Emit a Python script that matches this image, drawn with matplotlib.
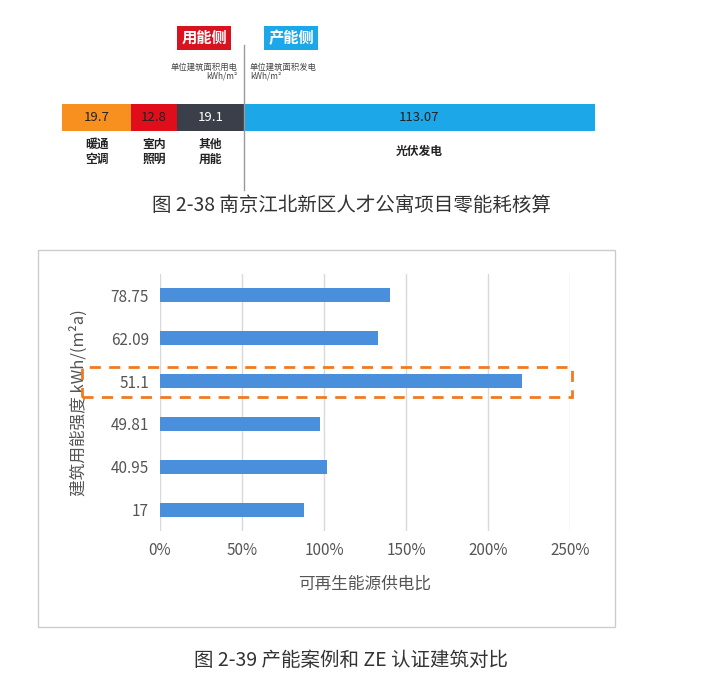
import matplotlib.pyplot as plt
import matplotlib.patches as patches

plt.rcParams['font.family'] = ['Noto Sans CJK SC', 'DejaVu Sans']

# top chart data: use side and production side
use_values = [19.7, 12.8, 19.1]
use_labels = ['19.7', '12.8', '19.1']
use_names = ['暖通\n空调', '室内\n照明', '其他\n用能']
use_colors = ['#f7901e', '#e00d1b', '#3a3f4a']
use_text = ['#222222', '#222222', 'white']
pv_value = 113.07
pv_label = '113.07'
pv_name = '光伏发电'

# bottom chart data
intensity = ['17', '40.95', '49.81', '51.1', '62.09', '78.75']
ratio = [88, 102, 97.5, 221, 133, 140]

W, H = 702, 698
fig = plt.figure(figsize=(7.02, 6.98), dpi=100)

def fx(x): return x / W
def fy(y): return 1 - y / H

# ---- top bar, use side
axu = fig.add_axes([fx(62), fy(131), fx(244) - fx(62), fy(104) - fy(131)])
left = 0
for v, lab, name, c, tc in zip(use_values, use_labels, use_names, use_colors, use_text):
    axu.barh(0, v, left=left, height=1, color=c)
    axu.text(left + v / 2, 0, lab, ha='center', va='center', fontsize=9.5, color=tc)
    axu.text(left + v / 2, -0.75, name, ha='center', va='top', fontsize=8.5,
             fontweight='bold', color='#222222')
    left += v
axu.set_xlim(0, sum(use_values))
axu.set_ylim(-0.5, 0.5)
axu.axis('off')

# ---- top bar, production side
axp = fig.add_axes([fx(244), fy(131), fx(595) - fx(244), fy(104) - fy(131)])
axp.barh(0, pv_value, height=1, color='#1ca7e8')
axp.text(pv_value / 2, 0, pv_label, ha='center', va='center', fontsize=9.5, color='#222222')
axp.text(pv_value / 2, -1.0, pv_name, ha='center', va='top', fontsize=8.5,
         fontweight='bold', color='#222222')
axp.set_xlim(0, pv_value)
axp.set_ylim(-0.5, 0.5)
axp.axis('off')

fig.add_artist(plt.Line2D([fx(244), fx(244)], [fy(45), fy(190)], color='#999999', lw=1))
fig.text(fx(204), fy(38), '用能侧', ha='center', va='center', fontsize=11, color='white',
         fontweight='bold', bbox=dict(boxstyle='square,pad=0.25', fc='#d9121f', ec='none'))
fig.text(fx(291), fy(38), '产能侧', ha='center', va='center', fontsize=11, color='white',
         fontweight='bold', bbox=dict(boxstyle='square,pad=0.25', fc='#1ca7e8', ec='none'))
fig.text(fx(238), fy(72), '单位建筑面积用电\nkWh/m²', ha='right', va='center', fontsize=6,
         color='#444444', linespacing=1.0)
fig.text(fx(250), fy(72), '单位建筑面积发电\nkWh/m²', ha='left', va='center', fontsize=6,
         color='#444444', linespacing=1.0)
fig.text(0.5, fy(205), '图 2-38 南京江北新区人才公寓项目零能耗核算', ha='center', va='center',
         fontsize=14, color='#333333')

# ---- bottom chart
fig.add_artist(patches.Rectangle((fx(38), fy(627)), fx(615) - fx(38), fy(250) - fy(627),
                                 transform=fig.transFigure, fill=False, ec='#cccccc', lw=1))
ax2 = fig.add_axes([fx(160), fy(531), fx(570) - fx(160), fy(274) - fy(531)])
y = range(len(intensity))
ax2.barh(y, ratio, height=0.33, color='#4a8fdc')
ax2.set_xlim(0, 250)
ax2.set_ylim(-0.5, 5.5)
ax2.set_xticks(range(0, 251, 50))
ax2.set_xticklabels([f'{t}%' for t in range(0, 251, 50)], fontsize=11, color='#555555')
ax2.set_yticks(list(y))
ax2.set_yticklabels(intensity, fontsize=11, color='#555555')
ax2.tick_params(length=0, pad=8)
ax2.grid(axis='x', color='#d9d9d9', lw=1)
ax2.set_axisbelow(True)
for s in ax2.spines.values():
    s.set_visible(False)
ax2.set_xlabel('可再生能源供电比', fontsize=12, color='#555555', labelpad=12)
ax2.set_ylabel('建筑用能强度 kWh/(m²a)', fontsize=12, color='#555555', labelpad=16)

fig.add_artist(patches.Rectangle((fx(82), fy(397)), fx(572) - fx(82), fy(367) - fy(397),
                                 transform=fig.transFigure, fill=False, ec='#f07a22', lw=2,
                                 ls=(0, (4, 3))))
fig.text(0.5, fy(660), '图 2-39 产能案例和 ZE 认证建筑对比', ha='center', va='center',
         fontsize=14, color='#333333')

fig.savefig('out.png', dpi=100)
